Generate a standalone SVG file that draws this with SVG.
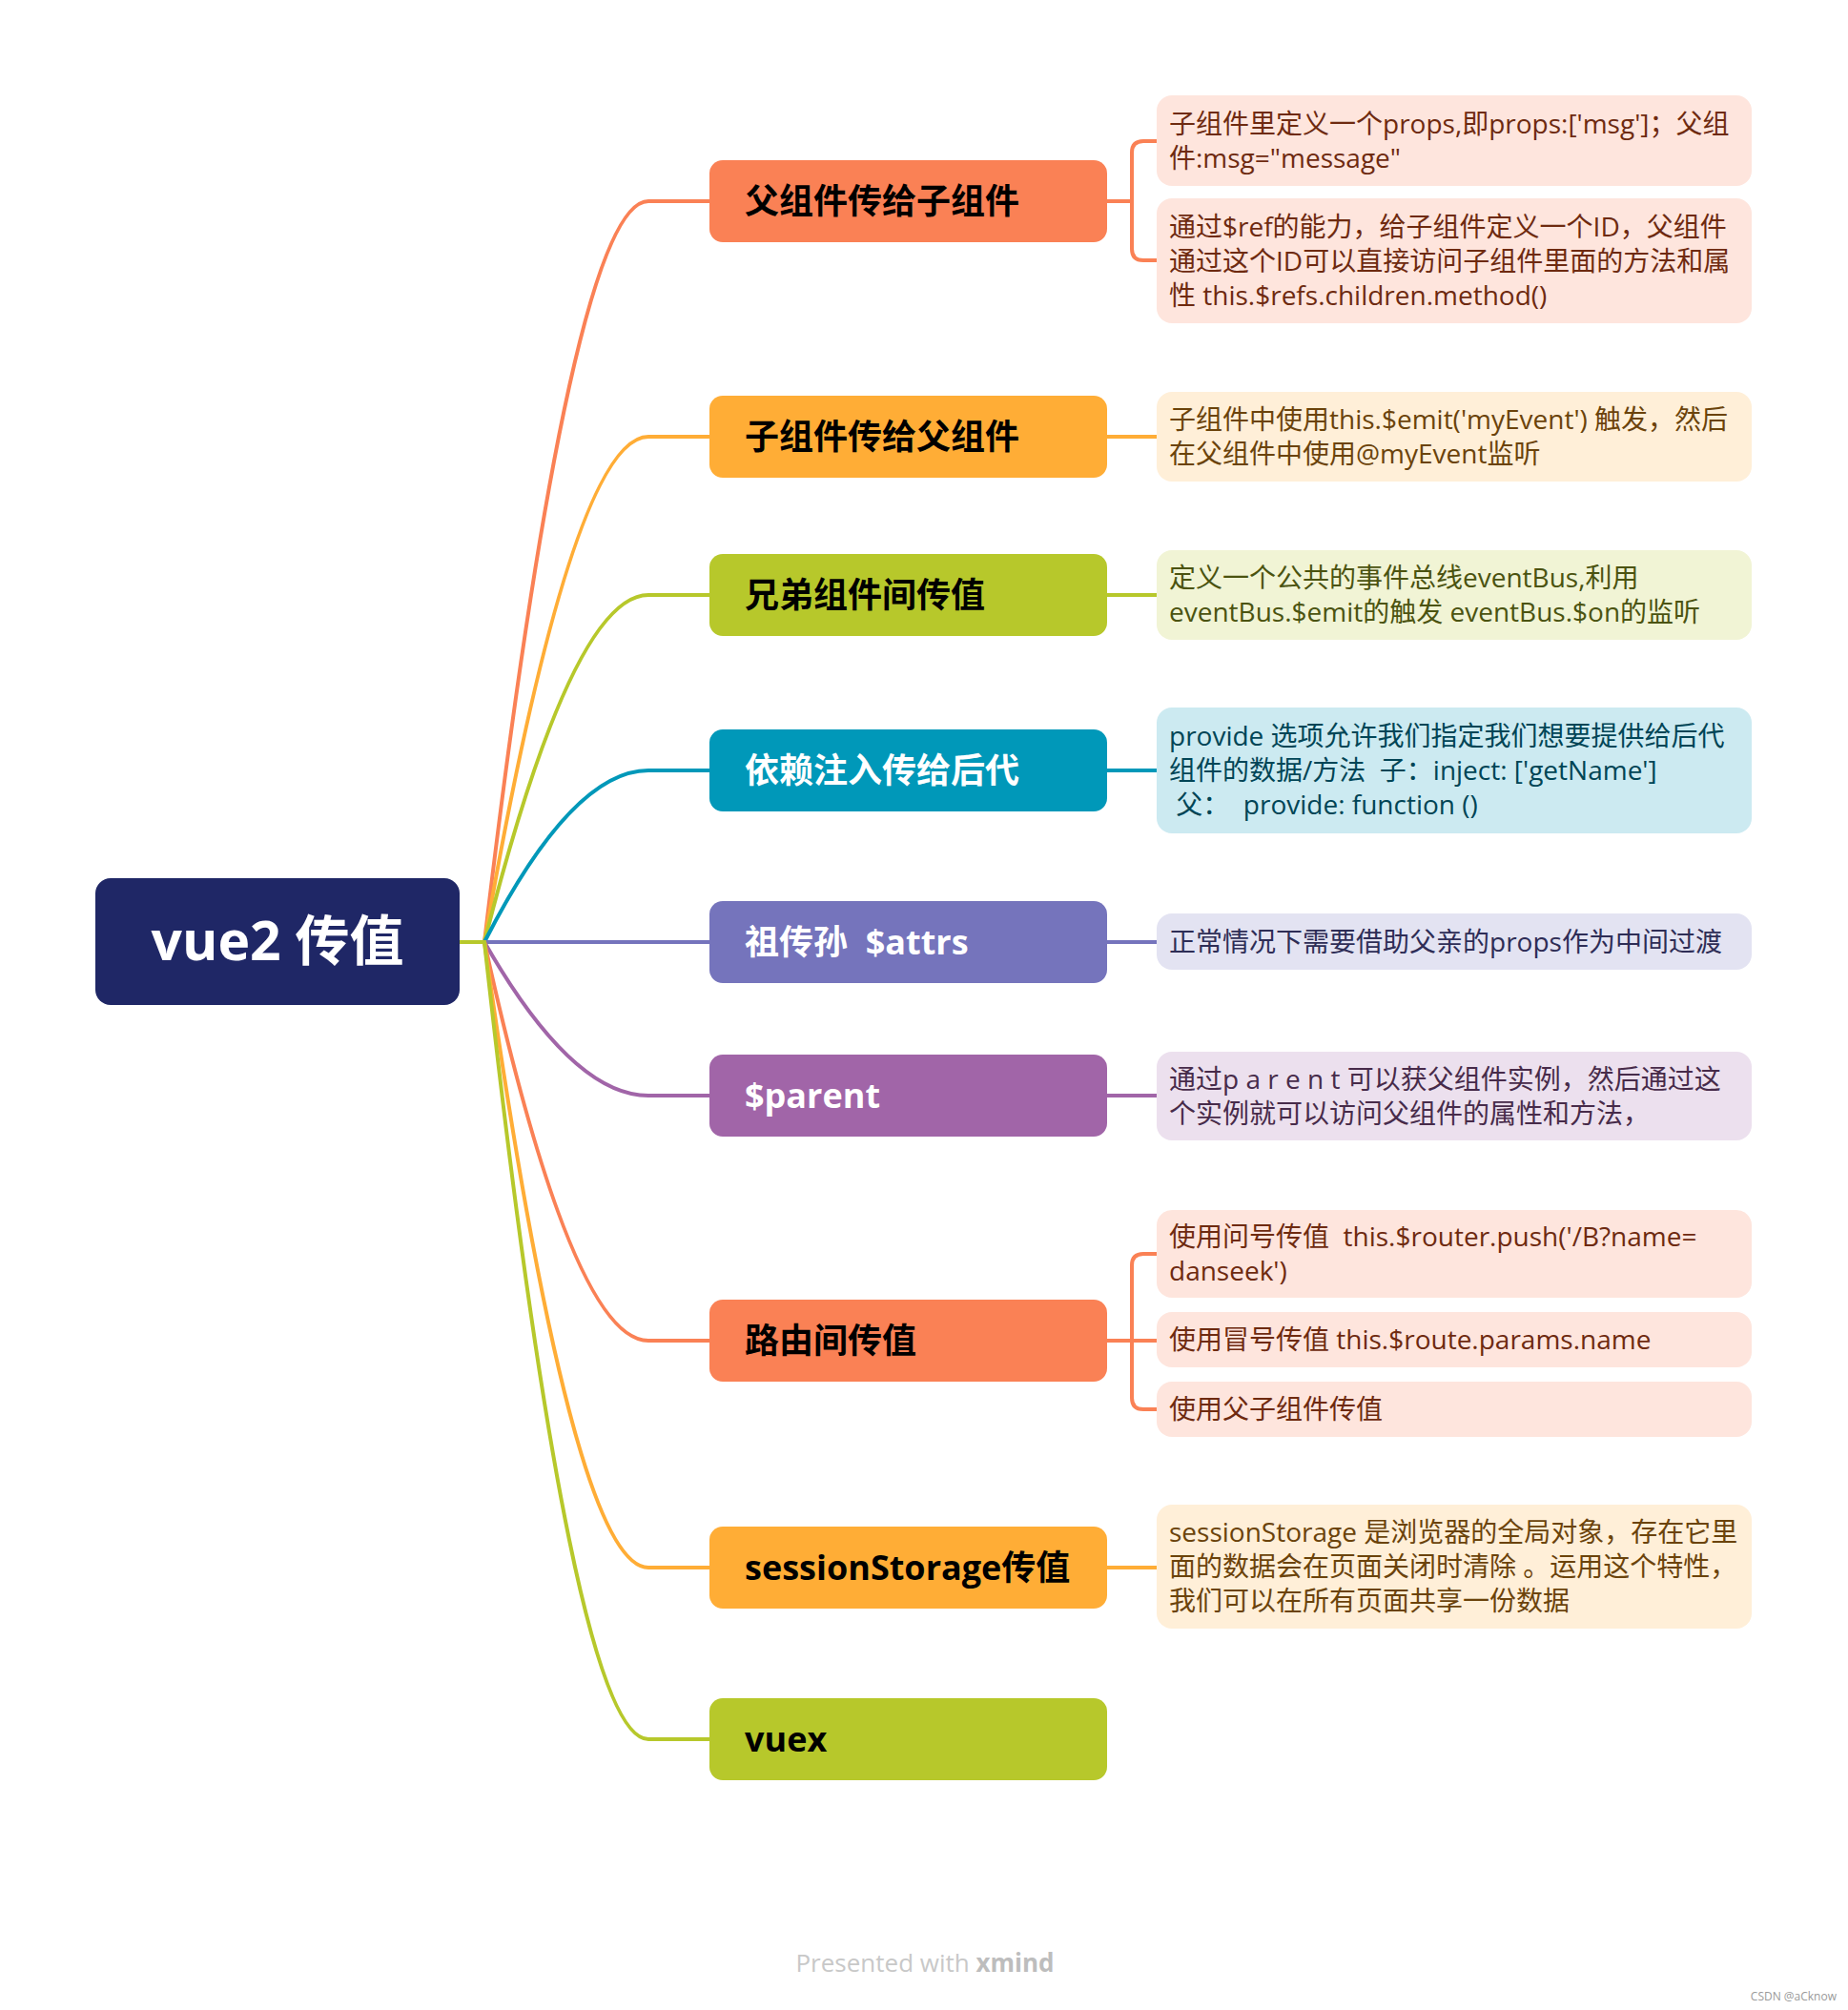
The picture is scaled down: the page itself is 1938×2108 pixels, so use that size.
<svg xmlns="http://www.w3.org/2000/svg" width="1938" height="2108" viewBox="0 0 1938 2108">
<style>
text{font-family:"Open Sans","Noto Sans CJK SC",sans-serif;white-space:pre}
.root{font-size:57px;font-weight:700;fill:#fff}
.br{font-size:36px;font-weight:700}
.dk{fill:#000}.wh{fill:#fff}
.dt{font-size:28px}
.c{fill:none;stroke-width:4;stroke-linecap:round}
.o{stroke:#FA8155}.y{stroke:#FFAD36}.g{stroke:#B7C82B}.t{stroke:#0098B9}.p{stroke:#7574BC}.v{stroke:#A165A8}
</style>
<rect width="1938" height="2108" fill="#fff"/>
<g id="connectors">
<path class="c o" d="M508,988 Q600,211 680,211 L744,211"/>
<path class="c y" d="M508,988 Q600,458 680,458 L744,458"/>
<path class="c g" d="M508,988 Q600,624 680,624 L744,624"/>
<path class="c t" d="M508,988 Q600,808 680,808 L744,808"/>
<path class="c p" d="M508,988 L744,988"/>
<path class="c v" d="M508,988 Q600,1149 680,1149 L744,1149"/>
<path class="c o" d="M508,988 Q600,1406 680,1406 L744,1406"/>
<path class="c y" d="M508,988 Q600,1644 680,1644 L744,1644"/>
<path class="c g" d="M508,988 Q600,1824 680,1824 L744,1824"/>
<path class="c g" d="M482,988 L508,988"/>
<path class="c o" d="M1161,211 L1187,211 M1213,148 H1199 Q1187,148 1187,160 V261 Q1187,273 1199,273 H1213"/>
<path class="c y" d="M1161,458 L1213,458"/>
<path class="c g" d="M1161,624 L1213,624"/>
<path class="c t" d="M1161,808 L1213,808"/>
<path class="c p" d="M1161,988 L1213,988"/>
<path class="c v" d="M1161,1149 L1213,1149"/>
<path class="c o" d="M1161,1406 L1213,1406 M1213,1315 H1199 Q1187,1315 1187,1327 V1466 Q1187,1478 1199,1478 H1213"/>
<path class="c y" d="M1161,1644 L1213,1644"/>
</g>
<g id="root">
<rect x="100" y="921" width="382" height="133" rx="16" fill="#1F2766"/>
<text class="root" x="291" y="1007" text-anchor="middle">vue2 传值</text>
</g>
<g id="n1">
<rect x="744" y="168" width="417" height="86" rx="14" fill="#FA8155"/>
<text class="br dk" x="781" y="224">父组件传给子组件</text>
</g>
<g id="n2">
<rect x="744" y="415" width="417" height="86" rx="14" fill="#FFAD36"/>
<text class="br dk" x="781" y="471">子组件传给父组件</text>
</g>
<g id="n3">
<rect x="744" y="581" width="417" height="86" rx="14" fill="#B7C82B"/>
<text class="br dk" x="781" y="637">兄弟组件间传值</text>
</g>
<g id="n4">
<rect x="744" y="765" width="417" height="86" rx="14" fill="#0098B9"/>
<text class="br wh" x="781" y="821">依赖注入传给后代</text>
</g>
<g id="n5">
<rect x="744" y="945" width="417" height="86" rx="14" fill="#7574BC"/>
<text class="br wh" x="781" y="1001">祖传孙  $attrs</text>
</g>
<g id="n6">
<rect x="744" y="1106" width="417" height="86" rx="14" fill="#A165A8"/>
<text class="br wh" x="781" y="1162">$parent</text>
</g>
<g id="n7">
<rect x="744" y="1363" width="417" height="86" rx="14" fill="#FA8155"/>
<text class="br dk" x="781" y="1419">路由间传值</text>
</g>
<g id="n8">
<rect x="744" y="1601" width="417" height="86" rx="14" fill="#FFAD36"/>
<text class="br dk" x="781" y="1657">sessionStorage传值</text>
</g>
<g id="n9">
<rect x="744" y="1781" width="417" height="86" rx="14" fill="#B7C82B"/>
<text class="br dk" x="781" y="1837">vuex</text>
</g>
<g id="d1a">
<rect x="1213" y="100" width="624" height="95" rx="16" fill="#FEE5DD"/>
<text class="dt" fill="#6E2A10"><tspan x="1226" y="140">子组件里定义一个props,即props:['msg']；父组</tspan><tspan x="1226" y="176">件:msg="message"</tspan></text>
</g>
<g id="d1b">
<rect x="1213" y="208" width="624" height="131" rx="16" fill="#FEE5DD"/>
<text class="dt" fill="#6E2A10"><tspan x="1226" y="248">通过$ref的能力，给子组件定义一个ID，父组件</tspan><tspan x="1226" y="284">通过这个ID可以直接访问子组件里面的方法和属</tspan><tspan x="1226" y="320">性 this.$refs.children.method()</tspan></text>
</g>
<g id="d2">
<rect x="1213" y="411" width="624" height="94" rx="16" fill="#FFEFD8"/>
<text class="dt" fill="#6B430B"><tspan x="1226" y="450">子组件中使用this.$emit('myEvent') 触发，然后</tspan><tspan x="1226" y="486">在父组件中使用@myEvent监听</tspan></text>
</g>
<g id="d3">
<rect x="1213" y="577" width="624" height="94" rx="16" fill="#F1F4D5"/>
<text class="dt" fill="#4B5310"><tspan x="1226" y="616">定义一个公共的事件总线eventBus,利用</tspan><tspan x="1226" y="652">eventBus.$emit的触发 eventBus.$on的监听</tspan></text>
</g>
<g id="d4">
<rect x="1213" y="742" width="624" height="132" rx="16" fill="#CCEAF1"/>
<text class="dt" fill="#004556"><tspan x="1226" y="782">provide 选项允许我们指定我们想要提供给后代</tspan><tspan x="1226" y="818">组件的数据/方法  子：inject: ['getName']</tspan><tspan x="1226" y="854"> 父：  provide: function ()</tspan></text>
</g>
<g id="d5">
<rect x="1213" y="958" width="624" height="59" rx="16" fill="#E3E3F2"/>
<text class="dt" fill="#2E2D56" x="1226" y="998">正常情况下需要借助父亲的props作为中间过渡</text>
</g>
<g id="d6">
<rect x="1213" y="1103" width="624" height="93" rx="16" fill="#ECE0EE"/>
<text class="dt" fill="#472B4A"><tspan x="1226" y="1142">通过p a r e n t 可以获父组件实例，然后通过这</tspan><tspan x="1226" y="1178">个实例就可以访问父组件的属性和方法，</tspan></text>
</g>
<g id="d7a">
<rect x="1213" y="1269" width="624" height="92" rx="16" fill="#FEE5DD"/>
<text class="dt" fill="#6E2A10"><tspan x="1226" y="1307">使用问号传值  this.$router.push('/B?name=</tspan><tspan x="1226" y="1343">danseek')</tspan></text>
</g>
<g id="d7b">
<rect x="1213" y="1376" width="624" height="58" rx="16" fill="#FEE5DD"/>
<text class="dt" fill="#6E2A10" x="1226" y="1415">使用冒号传值 this.$route.params.name</text>
</g>
<g id="d7c">
<rect x="1213" y="1449" width="624" height="58" rx="16" fill="#FEE5DD"/>
<text class="dt" fill="#6E2A10" x="1226" y="1488">使用父子组件传值</text>
</g>
<g id="d8">
<rect x="1213" y="1578" width="624" height="130" rx="16" fill="#FFEFD8"/>
<text class="dt" fill="#6B430B"><tspan x="1226" y="1617">sessionStorage 是浏览器的全局对象，存在它里</tspan><tspan x="1226" y="1653">面的数据会在页面关闭时清除 。运用这个特性，</tspan><tspan x="1226" y="1689">我们可以在所有页面共享一份数据</tspan></text>
</g>
<g id="footer">
<text x="970" y="2068" text-anchor="middle" font-size="26" fill="#C8C8C8">Presented with <tspan font-weight="700" fill="#BDBDBD">xmind</tspan></text>
<text x="1926" y="2098" text-anchor="end" font-size="12" fill="#9A9A9A">CSDN @aCknow</text>
</g>
</svg>
